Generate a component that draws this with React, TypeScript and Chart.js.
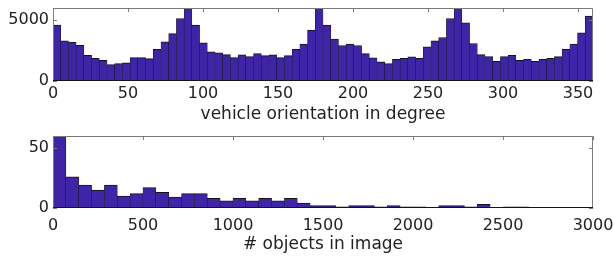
import React, { useEffect, useRef } from 'react';
import { Chart, registerables } from 'chart.js';

Chart.register(...registerables);

// ---- Data: vehicle orientation histogram (70 bins over 0..360 degrees)
const orientationRange = [0, 360];
const orientationCounts = [
  4590, 3300, 3190, 2940, 2120, 1870, 1705, 1350, 1430, 1485,
  1925, 1925, 1840, 2610, 3220, 3900, 5140, 6200, 4590, 3135,
  2390, 2310, 2170, 1925, 2145, 2010, 2255, 2090, 2145, 1925,
  2090, 2610, 3025, 4180, 6300, 4590, 3440, 2915, 3025, 2915,
  2255, 1900, 1570, 1430, 1790, 1870, 1980, 1870, 2805, 3300,
  3575, 5140, 6100, 4785, 3080, 2170, 2010, 1620, 2010, 2120,
  1705, 1790, 1620, 1790, 1870, 2010, 2610, 3025, 3960, 5335,
];
const orientationXTicks = [0, 50, 100, 150, 200, 250, 300, 350];
const orientationYTicks = [0, 5000];
const orientationYMax = 6000;

// ---- Data: objects per image histogram (42 bins over 0..3000)
const objectsRange = [0, 3000];
const objectsCounts = [
  62, 26, 19, 15, 19, 10, 12, 17, 13, 9,
  12, 12, 8, 6, 8, 6, 8, 6, 8, 4,
  2, 2, 1, 2, 2, 1, 2, 1, 1, 0,
  2, 2, 1, 3, 0, 1, 1, 0, 0, 0,
  0, 0,
];
const objectsXTicks = [0, 500, 1000, 1500, 2000, 2500, 3000];
const objectsYTicks = [0, 50];
const objectsYMax = 60;

const FONT = 'DejaVu Sans';
const TEXT_COLOR = '#222222';
const BAR_FILL = 'rgb(62, 37, 168)';
const BAR_EDGE = '#141414';
const SPINE = '#7a7a7a';

const framePlugin = {
  id: 'mplFrame',
  afterDatasetsDraw(chart: any) {
    const { ctx, chartArea, scales } = chart;
    const { left, right, top, bottom } = chartArea;
    const tl = 4;
    ctx.save();
    ctx.lineWidth = 1;
    ctx.strokeStyle = SPINE;
    ctx.beginPath();
    scales.x.ticks.forEach((t: any) => {
      const px = Math.round(scales.x.getPixelForValue(t.value)) + 0.5;
      ctx.moveTo(px, top);
      ctx.lineTo(px, top + tl);
    });
    scales.y.ticks.forEach((t: any) => {
      const py = Math.round(scales.y.getPixelForValue(t.value)) + 0.5;
      ctx.moveTo(left, py);
      ctx.lineTo(left + tl, py);
      ctx.moveTo(right, py);
      ctx.lineTo(right - tl, py);
    });
    ctx.stroke();
    ctx.beginPath();
    ctx.moveTo(Math.round(left) + 0.5, Math.round(bottom));
    ctx.lineTo(Math.round(left) + 0.5, Math.round(top) + 0.5);
    ctx.lineTo(Math.round(right) - 0.5, Math.round(top) + 0.5);
    ctx.lineTo(Math.round(right) - 0.5, Math.round(bottom));
    ctx.stroke();
    ctx.strokeStyle = BAR_EDGE;
    ctx.beginPath();
    ctx.moveTo(Math.round(left), Math.round(bottom) - 0.5);
    ctx.lineTo(Math.round(right), Math.round(bottom) - 0.5);
    ctx.stroke();
    ctx.restore();
  },
};

function makeConfig(
  counts: number[],
  range: number[],
  xTicks: number[],
  yTicks: number[],
  yMax: number,
  title: string,
  padTop: number,
  xAxisHeight: number,
  tickPad: number,
  titlePadBottom: number,
): any {
  const binWidth = (range[1] - range[0]) / counts.length;
  const fmt = (v: any) => String(v);
  return {
    type: 'bar',
    data: {
      datasets: [
        {
          data: counts.map((y, i) => ({ x: range[0] + (i + 0.5) * binWidth, y })),
          backgroundColor: BAR_FILL,
          borderColor: BAR_EDGE,
          borderWidth: { top: 1, left: 0.5, right: 0.5, bottom: 0 },
          borderSkipped: false,
          barPercentage: 1,
          categoryPercentage: 1,
        },
      ],
    },
    options: {
      responsive: false,
      animation: false,
      devicePixelRatio: 1,
      layout: { padding: { left: 0, right: 21, top: padTop, bottom: 0 } },
      plugins: { legend: { display: false }, tooltip: { enabled: false } },
      scales: {
        x: {
          type: 'linear',
          min: range[0],
          max: range[1],
          offset: false,
          grid: { display: false, drawTicks: false },
          border: { display: false },
          ticks: {
            padding: tickPad,
            color: TEXT_COLOR,
            font: { family: FONT, size: 16 },
            maxRotation: 0,
            autoSkip: false,
            callback: fmt,
          },
          afterBuildTicks: (s: any) => {
            s.ticks = xTicks.map((v) => ({ value: v }));
          },
          afterFit: (s: any) => {
            s.height = xAxisHeight;
            s.paddingLeft = 0;
            s.paddingRight = 0;
            s.paddingTop = 0;
            s.paddingBottom = 0;
          },
          title: {
            display: true,
            text: title,
            color: TEXT_COLOR,
            font: { family: FONT, size: 17 },
            padding: { top: 0, bottom: titlePadBottom },
          },
        },
        y: {
          type: 'linear',
          min: 0,
          max: yMax,
          grid: { display: false, drawTicks: false },
          border: { display: false },
          ticks: {
            padding: 4,
            color: TEXT_COLOR,
            font: { family: FONT, size: 16 },
            callback: fmt,
          },
          afterBuildTicks: (s: any) => {
            s.ticks = yTicks.map((v) => ({ value: v }));
          },
          afterFit: (s: any) => {
            s.width = 53;
            s.paddingLeft = 0;
            s.paddingRight = 0;
            s.paddingTop = 0;
            s.paddingBottom = 0;
          },
        },
      },
    },
    plugins: [framePlugin],
  };
}

function HistCanvas(props: { config: () => any; top: number; height: number }) {
  const ref = useRef<HTMLCanvasElement | null>(null);
  useEffect(() => {
    if (!ref.current) return;
    const chart = new Chart(ref.current, props.config());
    return () => chart.destroy();
  }, []);
  return (
    <canvas
      ref={ref}
      width={614}
      height={props.height}
      style={{ position: 'absolute', left: 0, top: props.top, width: 614, height: props.height, display: 'block' }}
    />
  );
}

export default function App() {
  return (
    <div style={{ position: 'absolute', left: 0, top: 0, width: 614, height: 257, background: '#ffffff' }}>
      <HistCanvas
        top={0}
        height={126}
        config={() =>
          makeConfig(orientationCounts, orientationRange, orientationXTicks, orientationYTicks, orientationYMax,
            'vehicle orientation in degree', 8, 45, 3, 1)
        }
      />
      <HistCanvas
        top={128}
        height={129}
        config={() =>
          makeConfig(objectsCounts, objectsRange, objectsXTicks, objectsYTicks, objectsYMax,
            '# objects in image', 8, 49, 8, 2)
        }
      />
    </div>
  );
}
